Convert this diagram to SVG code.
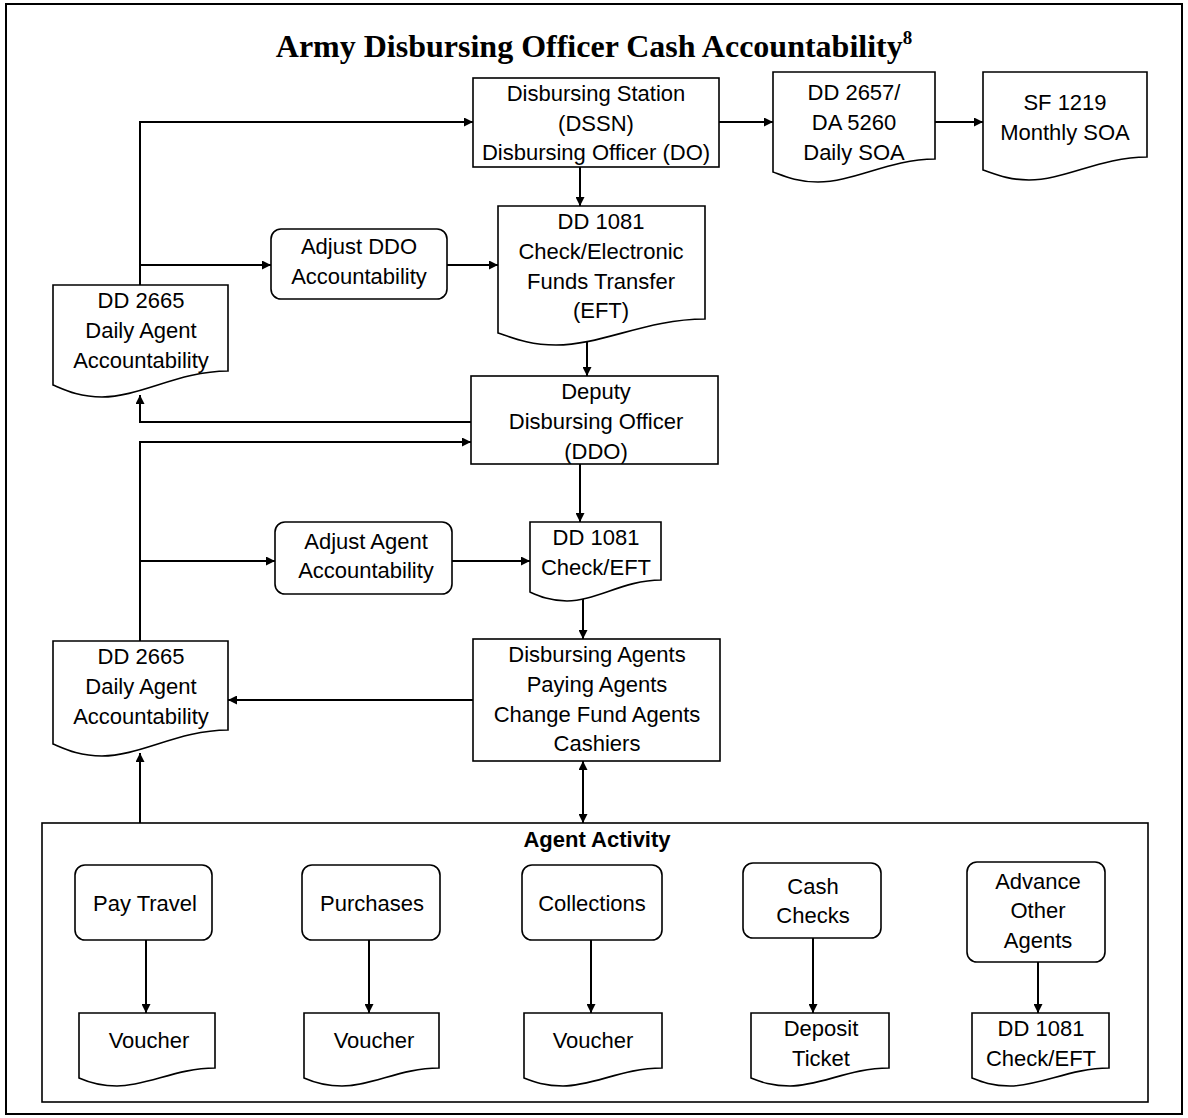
<svg xmlns="http://www.w3.org/2000/svg" width="1188" height="1118" viewBox="0 0 1188 1118">
<defs>
<marker id="ah" viewBox="0 0 10 10" refX="10" refY="5" markerWidth="9" markerHeight="9" markerUnits="userSpaceOnUse" orient="auto-start-reverse">
<path d="M0,0 L10,5 L0,10 z" fill="#000"/>
</marker>
<style>
.n{fill:#fff;stroke:#000;stroke-width:1.6}
.t{font-family:"Liberation Sans",Arial,sans-serif;font-size:22px;fill:#000;text-anchor:middle}
.b{font-weight:bold}
.c{fill:none;stroke:#000;stroke-width:2;marker-end:url(#ah)}
</style>
</defs>
<rect x="0" y="0" width="1188" height="1118" fill="#fff"/>
<rect x="6" y="4" width="1176" height="1110" fill="none" stroke="#000" stroke-width="2"/>
<text x="594" y="57" font-family="'Liberation Serif','Times New Roman',serif" font-size="32" font-weight="bold" text-anchor="middle">Army Disbursing Officer Cash Accountability<tspan font-size="19" dy="-13">8</tspan></text>

<g id="activity"><rect x="42" y="823" width="1106" height="279" fill="none" stroke="#000" stroke-width="1.6"/>
<text class="t b" x="597" y="847">Agent Activity</text></g>

<g id="connectors">
<path class="c" d="M140,285 V122 H473"/>
<path class="c" d="M140,265 H271"/>
<path class="c" d="M719,122 H773"/>
<path class="c" d="M935,122 H983"/>
<path class="c" d="M580,167 V206"/>
<path class="c" d="M447,265 H498"/>
<path class="c" d="M587,342 V376"/>
<path class="c" d="M471,422 H140 V395"/>
<path class="c" d="M140,641 V442 H471"/>
<path class="c" d="M140,561 H275"/>
<path class="c" d="M580,464 V522"/>
<path class="c" d="M452,561 H530"/>
<path class="c" d="M583,598 V639"/>
<path class="c" d="M473,700 H228"/>
<path class="c" d="M140,823 V753"/>
<path class="c" d="M583,823 V761" style="marker-start:url(#ah)"/>
<path class="c" d="M146,940 V1013"/>
<path class="c" d="M369,940 V1013"/>
<path class="c" d="M591,940 V1013"/>
<path class="c" d="M813,938 V1013"/>
<path class="c" d="M1038,962 V1013"/>
</g>

<g id="ds"><rect class="n" x="473" y="78" width="246" height="89"/>
<text class="t" x="596"><tspan x="596" y="101">Disbursing Station</tspan><tspan x="596" y="131">(DSSN)</tspan><tspan x="596" y="160">Disbursing Officer (DO)</tspan></text></g>

<g id="dd2657"><path class="n" d="M773,72 H935 V159 C890,159 854,182 818,182 C797,182 784,176 773,172 Z"/>
<text class="t"><tspan x="854" y="100">DD 2657/</tspan><tspan x="854" y="130">DA 5260</tspan><tspan x="854" y="160">Daily SOA</tspan></text></g>

<g id="sf1219"><path class="n" d="M983,72 H1147 V157 C1101,157 1065,180 1029,180 C1008,180 995,174 983,170 Z"/>
<text class="t"><tspan x="1065" y="110">SF 1219</tspan><tspan x="1065" y="140">Monthly SOA</tspan></text></g>

<g id="dd1081a"><path class="n" d="M498,206 H705 V319 C647,319 602,345 556,345 C529,345 513,338 498,333 Z"/>
<text class="t"><tspan x="601" y="229">DD 1081</tspan><tspan x="601" y="259">Check/Electronic</tspan><tspan x="601" y="289">Funds Transfer</tspan><tspan x="601" y="318">(EFT)</tspan></text></g>

<g id="adjddo"><rect class="n" x="271" y="229" width="176" height="70" rx="10"/>
<text class="t"><tspan x="359" y="254">Adjust DDO</tspan><tspan x="359" y="284">Accountability</tspan></text></g>

<g id="dd2665a"><path class="n" d="M53,285 H228 V371 C179,371 140,397 102,397 C79,397 65,390 53,385 Z"/>
<text class="t"><tspan x="141" y="308">DD 2665</tspan><tspan x="141" y="338">Daily Agent</tspan><tspan x="141" y="368">Accountability</tspan></text></g>

<g id="ddo"><rect class="n" x="471" y="376" width="247" height="88"/>
<text class="t"><tspan x="596" y="399">Deputy</tspan><tspan x="596" y="429">Disbursing Officer</tspan><tspan x="596" y="459">(DDO)</tspan></text></g>

<g id="adjagent"><rect class="n" x="275" y="522" width="177" height="72" rx="10"/>
<text class="t"><tspan x="366" y="549">Adjust Agent</tspan><tspan x="366" y="578">Accountability</tspan></text></g>

<g id="dd1081b"><path class="n" d="M530,522 H661 V580 C624,580 596,601 567,601 C550,601 539,596 530,592 Z"/>
<text class="t"><tspan x="596" y="545">DD 1081</tspan><tspan x="596" y="575">Check/EFT</tspan></text></g>

<g id="agents"><rect class="n" x="473" y="639" width="247" height="122"/>
<text class="t"><tspan x="597" y="662">Disbursing Agents</tspan><tspan x="597" y="692">Paying Agents</tspan><tspan x="597" y="722">Change Fund Agents</tspan><tspan x="597" y="751">Cashiers</tspan></text></g>

<g id="dd2665b"><path class="n" d="M53,641 H228 V730 C179,730 140,756 102,756 C79,756 65,749 53,744 Z"/>
<text class="t"><tspan x="141" y="664">DD 2665</tspan><tspan x="141" y="694">Daily Agent</tspan><tspan x="141" y="724">Accountability</tspan></text></g>

<g id="paytravel"><rect class="n" x="75" y="865" width="137" height="75" rx="10"/>
<text class="t" x="145" y="911">Pay Travel</text></g>
<g id="purchases"><rect class="n" x="302" y="865" width="138" height="75" rx="10"/>
<text class="t" x="372" y="911">Purchases</text></g>
<g id="collections"><rect class="n" x="522" y="865" width="140" height="75" rx="10"/>
<text class="t" x="592" y="911">Collections</text></g>
<g id="cashchecks"><rect class="n" x="743" y="863" width="138" height="75" rx="10"/>
<text class="t"><tspan x="813" y="894">Cash</tspan><tspan x="813" y="923">Checks</tspan></text></g>
<g id="advance"><rect class="n" x="967" y="862" width="138" height="100" rx="10"/>
<text class="t"><tspan x="1038" y="889">Advance</tspan><tspan x="1038" y="918">Other</tspan><tspan x="1038" y="948">Agents</tspan></text></g>

<g id="voucher1"><path class="n" d="M79,1013 H215 V1068 C177,1068 147,1086 117,1086 C99,1086 88,1082 79,1078 Z"/>
<text class="t" x="149" y="1048">Voucher</text></g>
<g id="voucher2"><path class="n" d="M304,1013 H439 V1068 C401,1068 372,1086 342,1086 C324,1086 313,1082 304,1078 Z"/>
<text class="t" x="374" y="1048">Voucher</text></g>
<g id="voucher3"><path class="n" d="M524,1013 H662 V1068 C623,1068 593,1086 563,1086 C545,1086 534,1082 524,1078 Z"/>
<text class="t" x="593" y="1048">Voucher</text></g>
<g id="deposit"><path class="n" d="M751,1013 H889 V1068 C850,1068 820,1086 790,1086 C772,1086 761,1082 751,1078 Z"/>
<text class="t"><tspan x="821" y="1036">Deposit</tspan><tspan x="821" y="1066">Ticket</tspan></text></g>
<g id="dd1081c"><path class="n" d="M972,1013 H1109 V1068 C1071,1068 1040,1086 1010,1086 C992,1086 982,1082 972,1078 Z"/>
<text class="t"><tspan x="1041" y="1036">DD 1081</tspan><tspan x="1041" y="1066">Check/EFT</tspan></text></g>
</svg>
